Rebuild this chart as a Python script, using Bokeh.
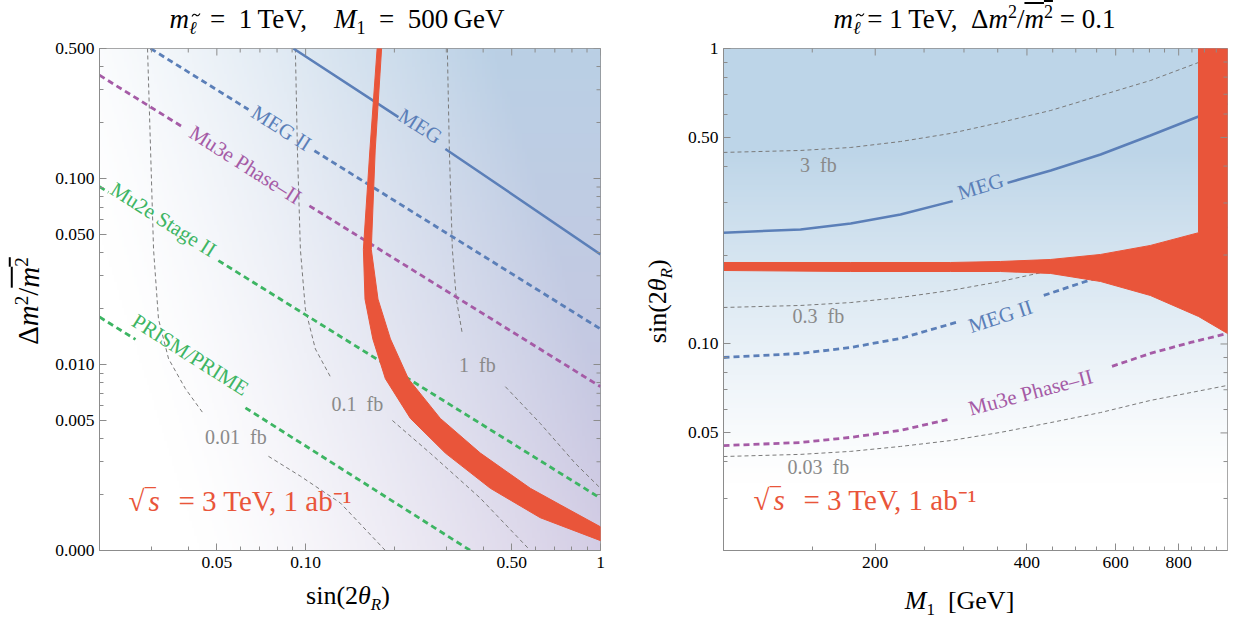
import numpy as np
from bokeh.plotting import figure
from bokeh.models import FixedTicker, Div, Range1d
from bokeh.layouts import row, column
from bokeh.embed import file_html
from bokeh.resources import INLINE
from bokeh.core.properties import value

nan = float("nan")
SERIF = "Liberation Serif"
BLUE = "#5b7fb8"
PURPLE = "#a55ba6"
GREEN = "#3db563"
RED = "#e9553a"
GRAY = "#7a7a7a"
AXIS = "#8c8c8c"
EN = "\u2002"

# ---------------------------------------------------------------- left panel
# x: sin(2θ_R), y: Δm²/m̄² ; NaN breaks a line where its label sits
L_XMAJ = [0.05, 0.1, 0.5, 1.0]
L_XLAB = ["0.05", "0.10", "0.50", "1"]
L_XMIN = [0.02, 0.03, 0.04, 0.06, 0.07, 0.08, 0.09, 0.2, 0.3, 0.4, 0.6, 0.7, 0.8, 0.9]
L_YMAJ = [0.001, 0.005, 0.01, 0.05, 0.1, 0.5]
L_YLAB = ["0.000", "0.005", "0.010", "0.050", "0.100", "0.500"]
L_YMIN = [0.002, 0.003, 0.004, 0.006, 0.007, 0.008, 0.009, 0.02, 0.03, 0.04,
          0.06, 0.07, 0.08, 0.09, 0.2, 0.3, 0.4]

meg_x = [0.0909, 0.2064, nan, 0.2978, 1.0]
meg_y = [0.5, 0.2138, nan, 0.1442, 0.0391]
meg2_x = [0.0298, 0.0640, nan, 0.1071, 1.0]
meg2_y = [0.5, 0.2348, nan, 0.1410, 0.01552]
mu3e_x = [0.02, 0.03794, nan, 0.1030, 1.0]
mu3e_y = [0.359, 0.1909, nan, 0.0713, 0.0076]
mu2e_x = [0.02, 0.02146, nan, 0.0506, 1.0]
mu2e_y = [0.0903, 0.0843, nan, 0.0362, 0.00191]
prism_x = [0.02, 0.02649, nan, 0.0625, 0.362]
prism_y = [0.018, 0.01364, nan, 0.00585, 0.001]

reach_L_names = ["MEG", "MEG II", "Mu3e Phase–II", "Mu2e Stage II", "PRISM/PRIME"]
reach_L_x = [0.2449, 0.0828, 0.0625, 0.03295, 0.0407]
reach_L_y = [0.1913, 0.1867, 0.1184, 0.0601, 0.01127]
reach_L_col = [BLUE, BLUE, PURPLE, GREEN, GREEN]

# cross-section contours
xs001_x = [0.0291, 0.0298, 0.0305, 0.0317, 0.0343, 0.0391, 0.0450, nan, 0.0748, 0.0960, 0.1312, 0.1864]
xs001_y = [0.5, 0.1424, 0.0416, 0.01756, 0.01073, 0.00742, 0.00545, nan, 0.00321, 0.00251, 0.00180, 0.001]
xs01_x = [0.0923, 0.0938, 0.0960, 0.0998, 0.1079, 0.1213, nan, 0.1969, 0.2649, 0.3914, 0.5781]
xs01_y = [0.5, 0.1424, 0.0416, 0.01986, 0.01213, 0.00860, nan, 0.00500, 0.00333, 0.00191, 0.001]
xs1_x = [0.3024, 0.3072, 0.3145, 0.3245, 0.3400, nan, 0.4757, 0.6250, 0.8214, 1.0]
xs1_y = [0.5, 0.1424, 0.0416, 0.02246, 0.01460, nan, 0.00760, 0.00482, 0.00294, 0.00216]
xs_L_names = ["0.01" + EN + "fb", "0.1" + EN + "fb", "1" + EN + "fb"]
xs_L_x = [0.0580, 0.1498, 0.3824]
xs_L_y = [0.0041, 0.0061, 0.00997]

# 3 TeV / 1 ab^-1 sensitivity band
band_hi_x = [0.1810, 0.1722, 0.1670, 0.1760, 0.1939, 0.2231, 0.2863, 0.3914, 0.5781, 0.7307, 1.0]
band_hi_y = [0.5, 0.1424, 0.0416, 0.02246, 0.01373, 0.00839, 0.00513, 0.00334, 0.00216, 0.00176, 0.00134]
band_lo_x = [0.1748, 0.1652, 0.1570, 0.1590, 0.1690, 0.1864, 0.2266, 0.2978, 0.4230, 0.6250, 1.0]
band_lo_y = [0.5, 0.1424, 0.0416, 0.02246, 0.01373, 0.00839, 0.00513, 0.00334, 0.00216, 0.0015, 0.00113]

# --------------------------------------------------------------- right panel
# x: M1 [GeV], y: sin(2θ_R)
R_XMAJ = [200, 400, 600, 800]
R_XLAB = ["200", "400", "600", "800"]
R_XMIN = [150, 250, 300, 350, 450, 500, 550, 650, 700, 750, 850, 900, 950]
R_YMAJ = [0.05, 0.1, 0.5, 1.0]
R_YLAB = ["0.05", "0.10", "0.50", "1"]
R_YMIN = [0.02, 0.03, 0.04, 0.06, 0.07, 0.08, 0.09, 0.2, 0.3, 0.4, 0.6, 0.7, 0.8, 0.9]

rmeg_m = [100, 142.2, 178.8, 224.5, 285.0, nan, 366.0, 446, 560, 703, 876, 1000]
rmeg_s = [0.238, 0.2441, 0.2557, 0.2744, 0.3045, nan, 0.3510, 0.3865, 0.4379, 0.5077, 0.5886, 0.6514]
rmeg2_m = [100, 142.2, 178.8, 224.5, 292.0, nan, 432.0, 560, 703, 876, 1000]
rmeg2_s = [0.0900, 0.0929, 0.0973, 0.1044, 0.1188, nan, 0.1460, 0.1692, 0.1962, 0.2275, 0.2497]
rmu3e_m = [100, 142.2, 178.8, 224.5, 280.0, nan, 590.0, 703, 845, 1000]
rmu3e_s = [0.0453, 0.0464, 0.0483, 0.0510, 0.0556, nan, 0.0840, 0.0929, 0.1012, 0.1085]

reach_R_names = ["MEG", "MEG II", "Mu3e Phase–II"]
reach_R_m = [323.6, 354.4, 406.6]
reach_R_s = [0.3412, 0.1239, 0.0685]
reach_R_ang = [17, 18, 15]
reach_R_col = [BLUE, BLUE, PURPLE]

rxs3_m = [100, 142.2, 178.8, 224.5, 282, 354.4, 446, 560, 703, 876]
rxs3_s = [0.4449, 0.4518, 0.4624, 0.4843, 0.5157, 0.5619, 0.6170, 0.6935, 0.7791, 0.8966]
rxs03_m = [100, 142.2, 178.8, 224.5, 282, 354.4, 446, 560]
rxs03_s = [0.1329, 0.1350, 0.1381, 0.1437, 0.1517, 0.1627, 0.1773, 0.1947]
rxs003_m = [100, 142.2, 178.8, 224.5, 282, 354.4, 446, 560, 703, 1000]
rxs003_s = [0.0416, 0.0423, 0.0433, 0.0450, 0.0471, 0.0502, 0.0542, 0.0586, 0.0644, 0.0724]
xs_R_names = ["3" + EN + "fb", "0.3" + EN + "fb", "0.03" + EN + "fb"]
xs_R_m = [154.3, 154.3, 154.3]
xs_R_s = [0.402, 0.1239, 0.0382]

rband_m = [100, 178.8, 282, 354.4, 446, 560, 703, 876, 876, 1000,
           1000, 876, 703, 560, 446, 354.4, 282, 178.8, 100]
rband_s = [0.1887, 0.1887, 0.1887, 0.1902, 0.1932, 0.2009, 0.2155, 0.238, 1.0, 1.0,
           0.1085, 0.1239, 0.1459, 0.1627, 0.1732, 0.1759, 0.1759, 0.1759, 0.1773]


def shade(n, kind):
    """Soft background tint of each frame, as an RGBA image."""
    u = np.linspace(0, 1, n)[None, :]
    v = np.linspace(0, 1, n)[:, None]
    if kind == "left":
        w = np.clip(1.1 * u + 0.35 * v - 0.22, 0, 1) ** 1.3
        blue = np.array([186, 208, 229.0])
        purple = np.array([204, 196, 224.0])
        tint = blue * v[..., None] + purple * (1 - v[..., None])
    else:
        w = np.clip(1.5 * v - 0.2, 0, 1) ** 1.2 * np.ones_like(u)
        tint = np.array([189, 213, 232.0]) * np.ones((n, n, 1))
    rgb = 255 * (1 - w[..., None]) + tint * w[..., None]
    img = np.empty((n, n), dtype=np.uint32)
    view = img.view(dtype=np.uint8).reshape((n, n, 4))
    view[..., :3] = np.clip(rgb, 0, 255).astype(np.uint8)
    view[..., 3] = 255
    return img


def style_axis(ax, standoff):
    ax.axis_line_color = AXIS
    ax.major_tick_line_color = AXIS
    ax.minor_tick_line_color = AXIS
    ax.major_tick_in = 7
    ax.major_tick_out = 0
    ax.minor_tick_in = 4
    ax.minor_tick_out = 0
    ax.major_label_text_font = SERIF
    ax.major_label_text_color = "black"
    ax.major_label_standoff = standoff
    ax.major_label_text_font_size = "17.5px"


def make_fig(width, xr, yr, mbl, mbr, xt, xl, xm, yt, yl, ym):
    p = figure(width=width, height=548, x_axis_type="log", y_axis_type="log",
               x_range=Range1d(*xr), y_range=Range1d(*yr),
               output_backend="svg", toolbar_location=None,
               min_border_left=mbl, min_border_right=mbr,
               min_border_top=14, min_border_bottom=32, margin=0)
    p.grid.visible = False
    p.outline_line_color = AXIS
    p.xaxis.ticker = FixedTicker(ticks=xt, minor_ticks=xm)
    p.yaxis.ticker = FixedTicker(ticks=yt, minor_ticks=ym)
    p.xaxis.major_label_overrides = dict(zip(xt, xl))
    p.yaxis.major_label_overrides = dict(zip(yt, yl))
    style_axis(p.xaxis[0], 6)
    style_axis(p.yaxis[0], 5)
    return p


def frame_ticks(p, xr, yr, xt, xm, yt, ym):
    """Inward ticks on the top and right edges of the frame (half of each dash is clipped)."""
    for ticks, size in [(xt, 14), (xm, 8)]:
        p.scatter(x=ticks, y=[yr[1]] * len(ticks), marker="dash", size=size,
                  angle=90, angle_units="deg", line_color=AXIS, line_width=1)
    for ticks, size in [(yt, 14), (ym, 8)]:
        p.scatter(x=[xr[1]] * len(ticks), y=ticks, marker="dash", size=size,
                  line_color=AXIS, line_width=1)


def sqrt_s_label(p, x, y):
    common = dict(text_font=value(SERIF), text_font_size="29px", text_color=RED,
                  text_baseline="middle", text_align="left")
    p.text(x=[x], y=[y], text=["√"], **common)
    p.text(x=[x], y=[y], text=["‾"], x_offset=17, y_offset=0, **common)
    p.text(x=[x], y=[y], text=["s"], x_offset=20, text_font_style="italic", **common)
    p.text(x=[x], y=[y], text=["= 3 TeV, 1 ab⁻¹"], x_offset=50, **common)


# ---------------------------------------------------------------- left figure
LXR, LYR = (0.02, 1.0), (0.001, 0.5)
pl = make_fig(582, LXR, LYR, 51, 30, L_XMAJ, L_XLAB, L_XMIN, L_YMAJ, L_YLAB, L_YMIN)
pl.image_rgba(image=[shade(200, "left")], x=LXR[0], y=LYR[0],
              dw=LXR[1] - LXR[0], dh=LYR[1] - LYR[0])

for xs, ys in [(xs001_x, xs001_y), (xs01_x, xs01_y), (xs1_x, xs1_y)]:
    pl.line(xs, ys, line_color=GRAY, line_width=1, line_dash="4 3")
pl.line(meg_x, meg_y, line_color=BLUE, line_width=2.5)
pl.line(meg2_x, meg2_y, line_color=BLUE, line_width=2.8, line_dash="6 4")
pl.line(mu3e_x, mu3e_y, line_color=PURPLE, line_width=2.8, line_dash="6 4")
pl.line(mu2e_x, mu2e_y, line_color=GREEN, line_width=2.8, line_dash="6 4")
pl.line(prism_x, prism_y, line_color=GREEN, line_width=2.8, line_dash="6 4")
pl.patch(band_hi_x + band_lo_x[::-1], band_hi_y + band_lo_y[::-1],
         fill_color=RED, line_color=RED, line_width=1)

pl.text(x=reach_L_x, y=reach_L_y, text=reach_L_names, text_color=reach_L_col,
        text_font=value(SERIF), text_font_size="21px", angle=-32.4, angle_units="deg",
        text_align="center", text_baseline="middle")
pl.text(x=xs_L_x, y=xs_L_y, text=xs_L_names, text_color="#8a8a8a",
        text_font=value(SERIF), text_font_size="20px",
        text_align="center", text_baseline="middle")
sqrt_s_label(pl, 0.02507, 0.001844)
frame_ticks(pl, LXR, LYR, L_XMAJ, L_XMIN, L_YMAJ, L_YMIN)

# --------------------------------------------------------------- right figure
RXR, RYR = (100, 1000), (0.02, 1.0)
pr = make_fig(553, RXR, RYR, 43, 6, R_XMAJ, R_XLAB, R_XMIN, R_YMAJ, R_YLAB, R_YMIN)
pr.image_rgba(image=[shade(200, "right")], x=RXR[0], y=RYR[0],
              dw=RXR[1] - RXR[0], dh=RYR[1] - RYR[0])

for ms, ss in [(rxs3_m, rxs3_s), (rxs03_m, rxs03_s), (rxs003_m, rxs003_s)]:
    pr.line(ms, ss, line_color=GRAY, line_width=1, line_dash="4 3")
pr.line(rmeg_m, rmeg_s, line_color=BLUE, line_width=2.5)
pr.line(rmeg2_m, rmeg2_s, line_color=BLUE, line_width=2.8, line_dash="6 4")
pr.line(rmu3e_m, rmu3e_s, line_color=PURPLE, line_width=2.8, line_dash="6 4")
pr.patch(rband_m, rband_s, fill_color=RED, line_color=RED, line_width=1)

pr.text(x=reach_R_m, y=reach_R_s, text=reach_R_names, text_color=reach_R_col,
        text_font=value(SERIF), text_font_size="21px", angle=reach_R_ang, angle_units="deg",
        text_align="center", text_baseline="middle")
pr.text(x=xs_R_m, y=xs_R_s, text=xs_R_names, text_color="#8a8a8a",
        text_font=value(SERIF), text_font_size="20px",
        text_align="center", text_baseline="middle")
sqrt_s_label(pr, 114.7, 0.02954)
frame_ticks(pr, RXR, RYR, R_XMAJ, R_XMIN, R_YMAJ, R_YMIN)

# ------------------------------------------------------------ titles, labels
FONT_CSS = f"font-family:'{SERIF}',serif;color:black;"


def top_div(html, width, shift):
    return Div(text=f'<div style="{FONT_CSS}font-size:27px;width:{width}px;text-align:center;'
                    f'position:relative;left:{shift}px;top:0px;white-space:nowrap;">{html}</div>',
               width=width, height=34, margin=0)


def bottom_div(html, width, shift, top):
    return Div(text=f'<div style="{FONT_CSS}font-size:26px;width:{width}px;text-align:center;'
                    f'position:relative;left:{shift}px;top:{top}px;white-space:nowrap;">{html}</div>',
               width=width, height=40, margin=0)


def side_div(html, width, inner_w, center_y, size):
    return Div(text=f'<div style="width:{inner_w}px;height:{2 * center_y}px;display:flex;'
                    f'align-items:center;justify-content:center;">'
                    f'<span style="{FONT_CSS}font-size:{size}px;display:inline-block;'
                    f'transform:rotate(-90deg);white-space:nowrap;">{html}</span></div>',
               width=width, height=622, margin=0)


def sup(t, size):
    return f'<sup style="font-size:{size}px">{t}</sup>'


def sub(t, size):
    return f'<sub style="font-size:{size}px">{t}</sub>'


def dm_ratio(size):
    m_bar = f'<span style="text-decoration:overline"><i>m</i>{sup(2, size)}</span>'
    return f'Δ<i>m</i>{sup(2, size)}/{m_bar}'


# slepton mass symbol: italic ℓ with a small drawn tilde above it
TILDE = ('<svg style="position:absolute;left:2px;top:-4px;" width="10" height="6">'
         '<path d="M1 4.5 Q3 1 5 3 T9 1.5" stroke="black" stroke-width="1.1" fill="none"/></svg>')
MSL = ('<i>m</i><sub style="font-size:18px;"><span style="position:relative;display:inline-block;">'
       f'<i>ℓ</i>{TILDE}</span></sub>')
SIN = f'sin(2<i>θ</i>{sub("<i>R</i>", 17)})'

title_l = top_div(f'{MSL}&ensp;=&ensp;1&thinsp;TeV,&ensp;&ensp;<i>M</i>{sub(1, 18)}&ensp;=&ensp;500&thinsp;GeV',
                  582, -2)
title_r = top_div(f'{MSL} = 1&thinsp;TeV,&ensp;{dm_ratio(18)} = 0.1', 553, 18)
xlab_l = bottom_div(SIN, 582, 9, -5)
xlab_r = bottom_div(f'<i>M</i>{sub(1, 17)}&ensp;[GeV]', 553, 3, 0)
ylab_l = side_div(dm_ratio(19), 48, 58, 301, 29)
ylab_r = side_div(SIN, 50, 58, 301, 26)

layout = row(ylab_l,
             column(title_l, pl, xlab_l, spacing=0),
             ylab_r,
             column(title_r, pr, xlab_r, spacing=0),
             spacing=0)

open("out.html", "w").write(file_html(layout, INLINE))
